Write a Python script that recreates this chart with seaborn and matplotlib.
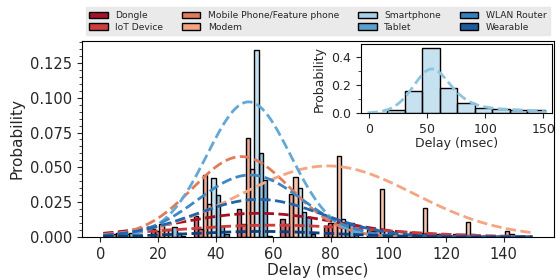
import numpy as np
import pandas as pd
import seaborn as sns
import matplotlib.pyplot as plt
from matplotlib.patches import Patch
from matplotlib.ticker import AutoMinorLocator

devices = ["Dongle", "IoT Device", "Mobile Phone/Feature phone", "Modem",
           "Smartphone", "Tablet", "WLAN Router", "Wearable"]
bar_colors = ["#a6122b", "#cc3f3f", "#e27b5d", "#f3a383",
              "#a7d0e5", "#5aa0cd", "#3580bf", "#1f5b9c"]
line_colors = ["#a50f26", "#cc3b3b", "#e27b5b", "#f4a582",
               "#62a9d6", "#3d88c3", "#2166ac", "#0d3f7c"]

# bin centres of delay (msec), 10 bins from 1 to 151
bin_centers = [8.5, 23.5, 38.5, 53.5, 68.5, 83.5, 98.5, 113.5, 128.5, 143.5]

# probability per bin for each device type (main plot)
dongle     = [0.003, 0.006, 0.015, 0.020, 0.0127, 0.008, 0.005, 0.003, 0.002, 0.001]
iot        = [0.002, 0.004, 0.006, 0.009, 0.009, 0.010, 0.004, 0.003, 0.002, 0.001]
mobile     = [0.003, 0.009, 0.0445, 0.071, 0.031, 0.010, 0.004, 0.003, 0.002, 0.004]
modem      = [0.002, 0.006, 0.0235, 0.0486, 0.043, 0.058, 0.0345, 0.021, 0.011, 0.002]
smartphone = [0.002, 0.006, 0.042, 0.134, 0.035, 0.013, 0.005, 0.003, 0.002, 0.001]
tablet     = [0.003, 0.007, 0.030, 0.0606, 0.018, 0.010, 0.004, 0.002, 0.001, 0.001]
wlan       = [0.001, 0.003, 0.008, 0.041, 0.0146, 0.010, 0.003, 0.002, 0.001, 0.001]
wearable   = [0.001, 0.001, 0.002, 0.001, 0.002, 0.002, 0.001, 0.001, 0.001, 0.001]

# normal fit per device: mean, std, peak height
fit_mean = [55, 60, 49, 79, 51.5, 52, 55, 56]
fit_std  = [28, 35, 17, 30, 14.5, 18, 22, 25]
fit_peak = [0.017, 0.0085, 0.0577, 0.051, 0.097, 0.0445, 0.027, 0.004]

# smartphone only, inset
smartphone_inset = [0.003, 0.02, 0.157, 0.469, 0.183, 0.072, 0.039, 0.027, 0.025, 0.02]

series = [dongle, iot, mobile, modem, smartphone, tablet, wlan, wearable]
rows = []
for d, vals in zip(devices, series):
    for c, v in zip(bin_centers, vals):
        rows.append({"delay": c, "prob": v, "device": d})
df = pd.DataFrame(rows)
edges = [1 + 15 * i for i in range(11)]

sns.set_style("ticks")
plt.rcParams["font.family"] = ["DejaVu Sans"]

fig = plt.figure(figsize=(5.6, 2.8), dpi=100)
ax = fig.add_axes([0.146, 0.1536, 0.843, 0.70])

sns.histplot(data=df, x="delay", weights="prob", hue="device", hue_order=devices,
             bins=edges, multiple="dodge", shrink=0.8, palette=bar_colors,
             alpha=0.65, edgecolor="black", linewidth=1, legend=False, ax=ax)

xs = np.linspace(1, 150, 300)
for m, s, p, c in zip(fit_mean, fit_std, fit_peak, line_colors):
    ax.plot(xs, p * np.exp(-0.5 * ((xs - m) / s) ** 2), ls="--", lw=2, color=c)

ax.margins(x=0.05, y=0.05)
ax.set_xticks([0, 20, 40, 60, 80, 100, 120, 140])
ax.set_yticks([0, 0.025, 0.05, 0.075, 0.1, 0.125])
ax.yaxis.set_major_formatter(plt.FormatStrFormatter("%.3f"))
ax.yaxis.set_minor_locator(AutoMinorLocator(5))
ax.tick_params(labelsize=10.5)
ax.set_xlabel("Delay (msec)", fontsize=11, labelpad=1)
ax.set_ylabel("Probability", fontsize=11)
for sp in ax.spines.values():
    sp.set_visible(True)
    sp.set_color("black")

handles = [Patch(facecolor=c, edgecolor="black", label=d) for d, c in zip(devices, bar_colors)]
leg = ax.legend(handles=handles, ncol=4, loc="lower center", bbox_to_anchor=(0.5, 1.0),
                fontsize=6.6, frameon=True, fancybox=False, handlelength=2.0,
                labelspacing=0.3, columnspacing=2.1, borderaxespad=0.6)
leg.get_frame().set_facecolor("#e5e5e5")
leg.get_frame().set_edgecolor("#e5e5e5")

# inset: smartphone alone
ins = fig.add_axes([0.645, 0.596, 0.341, 0.246])
sns.histplot(x=bin_centers, weights=smartphone_inset, bins=edges, color="#8ec4e0",
             alpha=0.5, edgecolor="black", linewidth=1, kde=True,
             kde_kws=dict(bw_adjust=0.55, cut=0.6),
             line_kws=dict(ls="--", lw=2), ax=ins)
ins.set_xlim(-6.45, 157.45)
ins.set_xticks([0, 50, 100, 150])
ins.set_yticks([0, 0.2, 0.4])
ins.yaxis.set_major_formatter(plt.FormatStrFormatter("%.1f"))
ins.yaxis.set_minor_locator(AutoMinorLocator(2))
ins.tick_params(labelsize=9)
ins.set_xlabel("Delay (msec)", fontsize=9, labelpad=1)
ins.set_ylabel("Probability", fontsize=9)
for sp in ins.spines.values():
    sp.set_visible(True)
    sp.set_color("black")

fig.savefig("out.png", dpi=100)
